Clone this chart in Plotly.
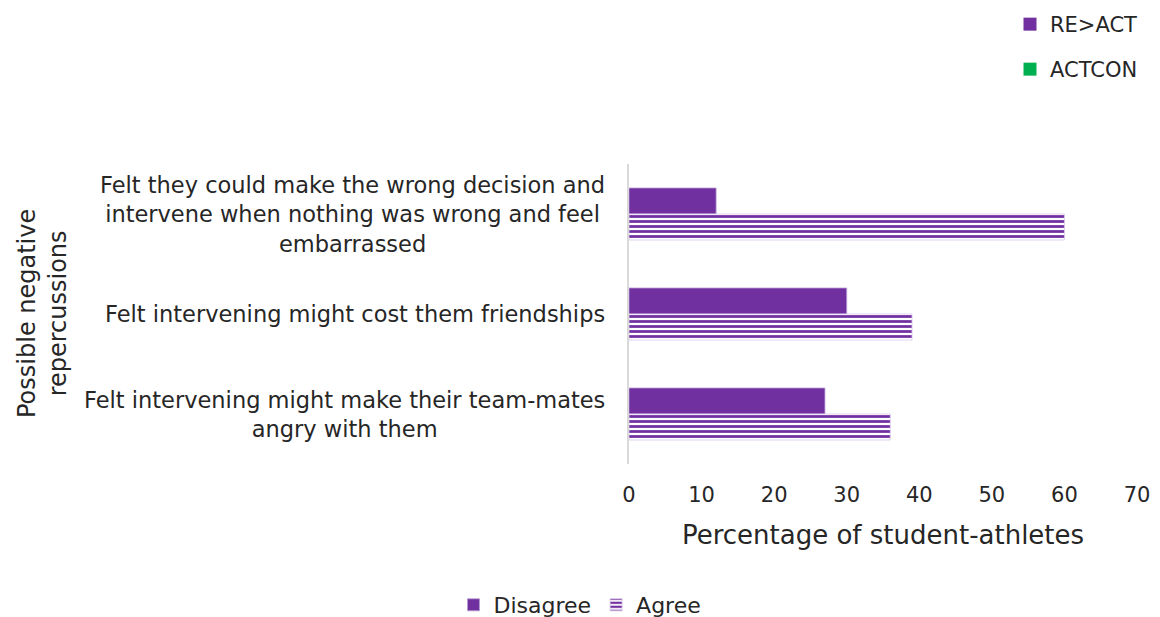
import plotly.graph_objects as go

# Survey items, listed top to bottom
categories = [
    "Felt they could make the wrong decision and<br>intervene when nothing was wrong and feel<br>embarrassed",
    "Felt intervening might cost them friendships",
    "Felt intervening might make their team-mates<br>angry with them",
]
disagree = [12, 30, 27]
agree = [60, 39, 36]
x_ticks = [0, 10, 20, 30, 40, 50, 60, 70]

PURPLE = "#7030A0"
GREEN = "#00B050"
TEXT = "#262626"
FONT = "DejaVu Sans"

cat_keys = [f"c{i}" for i in range(len(categories))]

fig = go.Figure()
fig.add_trace(go.Bar(
    y=cat_keys, x=disagree, name="Disagree", orientation="h",
    marker=dict(color=PURPLE, line=dict(color="#b89ad0", width=0.8)),
    legend="legend",
))
fig.add_trace(go.Bar(
    y=cat_keys, x=agree, name="Agree", orientation="h",
    marker=dict(
        color=PURPLE,
        line=dict(color="#d9c6ea", width=0.8),
        pattern=dict(shape="-", size=5, solidity=0.55, fgcolor=PURPLE,
                     bgcolor="white", fillmode="replace"),
    ),
    legend="legend",
))
# Programme key shown at the top right (legend entries only)
fig.add_trace(go.Scatter(y=[None], x=[None], name="RE>ACT", mode="markers",
                         marker=dict(color=PURPLE, symbol="square", size=13),
                         legend="legend2"))
fig.add_trace(go.Scatter(y=[None], x=[None], name="ACTCON", mode="markers",
                         marker=dict(color=GREEN, symbol="square", size=13),
                         legend="legend3"))

annotations = []
for key, label in zip(cat_keys, categories):
    annotations.append(dict(
        x=0, xref="paper", y=key, yref="y", xshift=-22,
        xanchor="right", yanchor="middle", align="center",
        text=label, showarrow=False,
        font=dict(family=FONT, size=22.5, color=TEXT),
    ))
annotations.append(dict(
    x=(42 - 629) / 508, xref="paper", y=0.5, yref="paper",
    xanchor="center", yanchor="middle", align="center",
    text="Possible negative<br>repercussions", textangle=-90, showarrow=False,
    font=dict(family=FONT, size=24, color=TEXT),
))

fig.update_layout(
    width=1160, height=617,
    margin=dict(l=629, r=23, t=164, b=153, autoexpand=False),
    paper_bgcolor="white", plot_bgcolor="white",
    font=dict(family=FONT, size=21, color=TEXT),
    barmode="group", bargap=0.48, bargroupgap=0,
    annotations=annotations,
    xaxis=dict(
        range=[0, 70], tickvals=x_ticks, showgrid=False, zeroline=False,
        showline=False, ticks="", ticklabelstandoff=16,
        tickfont=dict(family=FONT, size=21, color=TEXT),
        title=dict(text="Percentage of student-athletes", standoff=19,
                   font=dict(family=FONT, size=26, color=TEXT)),
    ),
    yaxis=dict(
        categoryorder="array", categoryarray=cat_keys, autorange="reversed",
        showticklabels=False, showgrid=False, zeroline=False,
        showline=True, linecolor="#d9d9d9", linewidth=2, ticks="",
    ),
    legend=dict(
        orientation="h", xref="container", yref="container",
        x=0.5, xanchor="center", y=12 / 617, yanchor="middle",
        font=dict(family=FONT, size=22, color=TEXT),
        itemwidth=30, traceorder="normal",
    ),
    legend2=dict(
        xref="container", yref="container", x=1010 / 1160, xanchor="left",
        y=1 - 4 / 617, yanchor="top",
        font=dict(family=FONT, size=21, color=TEXT), itemwidth=30,
    ),
    legend3=dict(
        xref="container", yref="container", x=1010 / 1160, xanchor="left",
        y=1 - 49 / 617, yanchor="top",
        font=dict(family=FONT, size=21, color=TEXT), itemwidth=30,
    ),
)

fig.write_html("out.html")
